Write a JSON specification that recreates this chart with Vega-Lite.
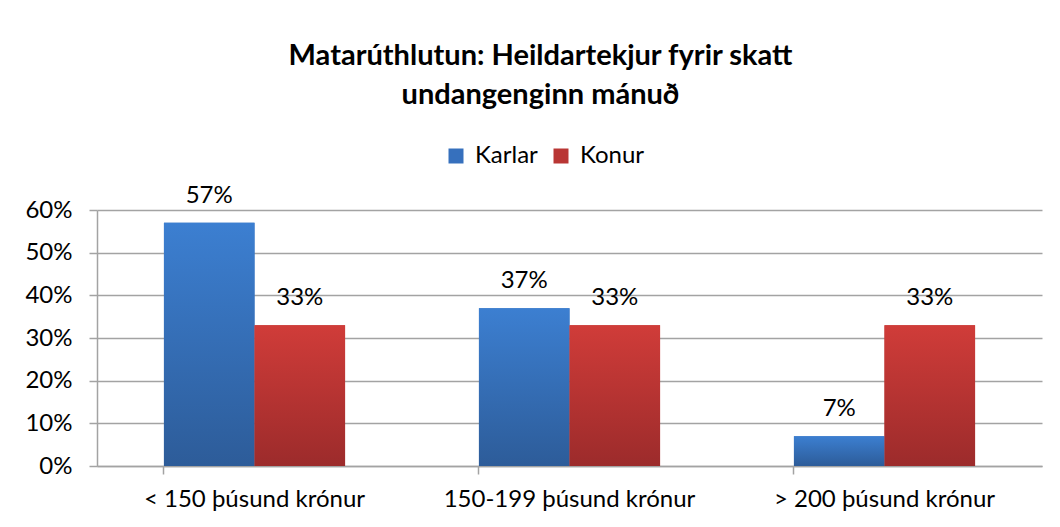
{
  "$schema": "https://vega.github.io/schema/vega-lite/v6.json",
  "width": 945,
  "height": 256,
  "autosize": "none",
  "padding": {"left": 97, "top": 210, "right": 18, "bottom": 61},
  "background": "white",
  "title": {
    "text": ["Matarúthlutun: Heildartekjur fyrir skatt", "undangenginn mánuð"],
    "anchor": "middle",
    "frame": "group",
    "dx": -29,
    "offset": 34,
    "font": "Lato",
    "fontSize": 29,
    "fontWeight": "bold",
    "lineHeight": 39,
    "color": "black"
  },
  "data": {
    "values": [
      {"income": "< 150 þúsund krónur", "gender": "Karlar", "value": 0.57},
      {"income": "< 150 þúsund krónur", "gender": "Konur", "value": 0.33},
      {"income": "150-199 þúsund krónur", "gender": "Karlar", "value": 0.37},
      {"income": "150-199 þúsund krónur", "gender": "Konur", "value": 0.33},
      {"income": "> 200 þúsund krónur", "gender": "Karlar", "value": 0.07},
      {"income": "> 200 þúsund krónur", "gender": "Konur", "value": 0.33}
    ]
  },
  "encoding": {
    "x": {
      "field": "income",
      "type": "nominal",
      "sort": ["< 150 þúsund krónur", "150-199 þúsund krónur", "> 200 þúsund krónur"],
      "scale": {"paddingInner": 0.425, "paddingOuter": 0.2125},
      "axis": {
        "title": null,
        "labelAngle": 0,
        "labelLimit": 500,
        "bandPosition": 0,
        "ticks": true,
        "tickSize": 8,
        "tickColor": "#a3a3a3",
        "tickWidth": 1.5,
        "domainColor": "#a3a3a3",
        "domainWidth": 1.5,
        "labelFont": "Lato",
        "labelFontSize": 24,
        "labelColor": "black",
        "labelPadding": 13,
        "grid": false
      }
    },
    "xOffset": {
      "field": "gender",
      "type": "nominal",
      "sort": ["Karlar", "Konur"],
      "scale": {"domain": ["Karlar", "Konur"], "paddingInner": 0, "paddingOuter": 0}
    },
    "y": {
      "field": "value",
      "type": "quantitative",
      "scale": {"domain": [0, 0.6]},
      "axis": {
        "title": null,
        "values": [0, 0.1, 0.2, 0.3, 0.4, 0.5, 0.6],
        "format": ".0%",
        "tickSize": 8,
        "tickColor": "#a3a3a3",
        "tickWidth": 1.5,
        "domainColor": "#a3a3a3",
        "domainWidth": 1.5,
        "gridColor": "#a3a3a3",
        "gridWidth": 1.5,
        "labelFont": "Lato",
        "labelFontSize": 24,
        "labelColor": "black",
        "labelPadding": 17
      }
    }
  },
  "layer": [
    {
      "mark": {"type": "bar"},
      "encoding": {
        "color": {
          "field": "gender",
          "type": "nominal",
          "scale": {"domain": ["Karlar", "Konur"], "range": ["#3670bd", "#b93634"]},
          "legend": {
            "orient": "none",
            "legendX": 347,
            "legendY": -66,
            "direction": "horizontal",
            "title": null,
            "symbolType": "square",
            "symbolSize": 225,
            "symbolStrokeWidth": 0,
            "labelFont": "Lato",
            "labelFontSize": 24,
            "labelColor": "black",
            "labelOffset": 7,
            "columnPadding": 11,
            "encode": {
              "symbols": {
                "update": {
                  "fill": [
                    {"test": "datum.label === 'Karlar'", "value": {"gradient": "linear", "x1": 0, "y1": 0, "x2": 0, "y2": 1, "stops": [{"offset": 0, "color": "#3c7fd1"}, {"offset": 1, "color": "#2d5c99"}]}},
                    {"value": {"gradient": "linear", "x1": 0, "y1": 0, "x2": 0, "y2": 1, "stops": [{"offset": 0, "color": "#d03c39"}, {"offset": 1, "color": "#9c2b2b"}]}}
                  ]
                }
              }
            }
          }
        }
      }
    },
    {
      "transform": [{"filter": "datum.gender === 'Karlar'"}],
      "mark": {"type": "bar", "color": {"gradient": "linear", "x1": 0, "y1": 0, "x2": 0, "y2": 1, "stops": [{"offset": 0, "color": "#3c7fd1"}, {"offset": 1, "color": "#2d5c99"}]}}
    },
    {
      "transform": [{"filter": "datum.gender === 'Konur'"}],
      "mark": {"type": "bar", "color": {"gradient": "linear", "x1": 0, "y1": 0, "x2": 0, "y2": 1, "stops": [{"offset": 0, "color": "#d03c39"}, {"offset": 1, "color": "#9c2b2b"}]}}
    },
    {
      "mark": {"type": "text", "baseline": "alphabetic", "dy": -20, "font": "Lato", "fontSize": 24, "color": "black"},
      "encoding": {
        "text": {"field": "value", "type": "quantitative", "format": ".0%"}
      }
    }
  ],
  "config": {"view": {"stroke": null}}
}
